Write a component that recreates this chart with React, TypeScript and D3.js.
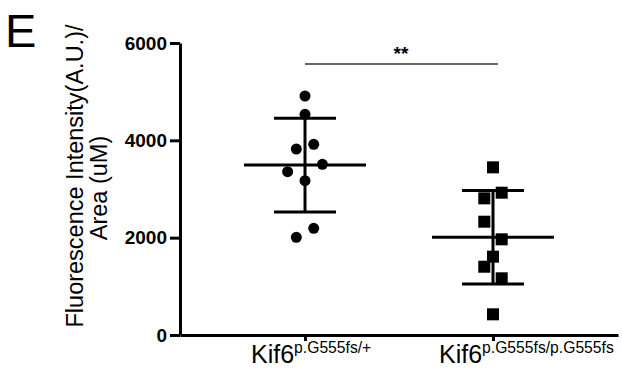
import { axisBottom, axisLeft, scaleLinear, scalePoint, select } from "d3";
import { useEffect, useRef } from "react";

const groups = ["het", "hom"];
const groupMain = ["Kif6", "Kif6"];
const groupSup = ["p.G555fs/+", "p.G555fs/p.G555fs"];

// individual values
const hetValues = [4911, 4535, 3822, 3918, 3507, 3356, 3171, 2192, 2007];
const homValues = [3445, 2924, 2808, 2328, 1966, 1609, 1403, 1165, 425];
// horizontal scatter, in jitter steps
const hetJitter = [0, 0, -1, 1, 2, -2, 0, 1, -1];
const homJitter = [0, 1, -1, -1, 1, 0, -1, 1, 0];

const yTicks = [0, 2000, 4000, 6000];

const mean = (v: number[]) => v.reduce((a, b) => a + b, 0) / v.length;
const sd = (v: number[]) => {
  const m = mean(v);
  return Math.sqrt(v.reduce((a, b) => a + (b - m) ** 2, 0) / (v.length - 1));
};

export default function App() {
  const svgRef = useRef<SVGSVGElement | null>(null);
  const width = 622;
  const height = 372;

  useEffect(() => {
    if (!svgRef.current) return;
    const svg = select(svgRef.current);
    svg.selectAll("*").remove();

    const font = "Arial, 'Liberation Sans', sans-serif";
    const y = scaleLinear().domain([0, 6000]).range([335, 43]);
    const x = scalePoint<string>().domain(groups).range([180, 618]).padding(0.665);
    const step = 8.7;

    // y axis
    const yAxis = svg
      .append("g")
      .attr("transform", "translate(180,0)")
      .call(
        axisLeft(y)
          .tickValues(yTicks)
          .tickSize(10)
          .tickSizeOuter(0)
          .tickPadding(3)
          .tickFormat((d) => String(d)),
      );
    yAxis.select(".domain").attr("stroke-width", 3);
    yAxis.selectAll(".tick line").attr("stroke-width", 3);
    yAxis
      .selectAll(".tick text")
      .attr("font-family", font)
      .attr("font-size", 19)
      .attr("font-weight", "bold")
      .attr("fill", "#000");

    // x axis
    const xAxis = svg
      .append("g")
      .attr("transform", "translate(0,335)")
      .call(axisBottom(x).tickSize(6).tickSizeOuter(0).tickFormat(() => ""));
    xAxis.select(".domain").attr("stroke-width", 3);
    xAxis.selectAll(".tick line").attr("stroke-width", 3);

    // category labels
    groups.forEach((g, i) => {
      const t = svg
        .append("text")
        .attr("x", (x(g) ?? 0) - 54)
        .attr("y", 363)
        .attr("font-family", font)
        .attr("fill", "#000");
      t.append("tspan").attr("font-size", 25).text(groupMain[i]);
      t.append("tspan").attr("font-size", 15.7).attr("dy", -10).text(groupSup[i]);
    });

    // y title
    svg
      .append("text")
      .attr("transform", "translate(83,176) rotate(-90)")
      .attr("text-anchor", "middle")
      .attr("font-family", font)
      .attr("font-size", 23.5)
      .text("Fluorescence Intensity(A.U.)/");
    svg
      .append("text")
      .attr("transform", "translate(107,188) rotate(-90)")
      .attr("text-anchor", "middle")
      .attr("font-family", font)
      .attr("font-size", 23.5)
      .text("Area (uM)");

    // panel letter
    svg
      .append("text")
      .attr("x", 5)
      .attr("y", 47)
      .attr("font-family", font)
      .attr("font-size", 47)
      .text("E");

    const series = [
      { g: groups[0], values: hetValues, jitter: hetJitter, shape: "circle" },
      { g: groups[1], values: homValues, jitter: homJitter, shape: "square" },
    ];

    series.forEach((s) => {
      const cx = x(s.g) ?? 0;
      const m = mean(s.values);
      const d = sd(s.values);
      const gEl = svg.append("g").attr("stroke", "#000").attr("stroke-width", 3);
      gEl.append("line").attr("x1", cx).attr("x2", cx).attr("y1", y(m + d)).attr("y2", y(m - d));
      gEl.append("line").attr("x1", cx - 61).attr("x2", cx + 61).attr("y1", y(m)).attr("y2", y(m));
      [m + d, m - d].forEach((v) => {
        gEl.append("line").attr("x1", cx - 31).attr("x2", cx + 31).attr("y1", y(v)).attr("y2", y(v));
      });

      const pts = svg.append("g").attr("fill", "#000");
      if (s.shape === "circle") {
        pts
          .selectAll("circle")
          .data(s.values)
          .join("circle")
          .attr("cx", (_, i) => cx + s.jitter[i] * step)
          .attr("cy", (v) => y(v))
          .attr("r", 5.5);
      } else {
        pts
          .selectAll("rect")
          .data(s.values)
          .join("rect")
          .attr("x", (_, i) => cx + s.jitter[i] * step - 6)
          .attr("y", (v) => y(v) - 6)
          .attr("width", 12)
          .attr("height", 12);
      }
    });

    // significance bar
    svg
      .append("line")
      .attr("x1", x(groups[0]) ?? 0)
      .attr("x2", (x(groups[1]) ?? 0) + 5)
      .attr("y1", 64)
      .attr("y2", 64)
      .attr("stroke", "#333")
      .attr("stroke-width", 1.3);
    svg
      .append("text")
      .attr("x", ((x(groups[0]) ?? 0) + (x(groups[1]) ?? 0)) / 2 + 2)
      .attr("y", 60)
      .attr("text-anchor", "middle")
      .attr("font-family", font)
      .attr("font-size", 19)
      .attr("font-weight", "bold")
      .text("**");
  }, []);

  return (
    <svg
      ref={svgRef}
      width={width}
      height={height}
      style={{ position: "absolute", left: 0, top: 0, background: "#fff" }}
    />
  );
}
